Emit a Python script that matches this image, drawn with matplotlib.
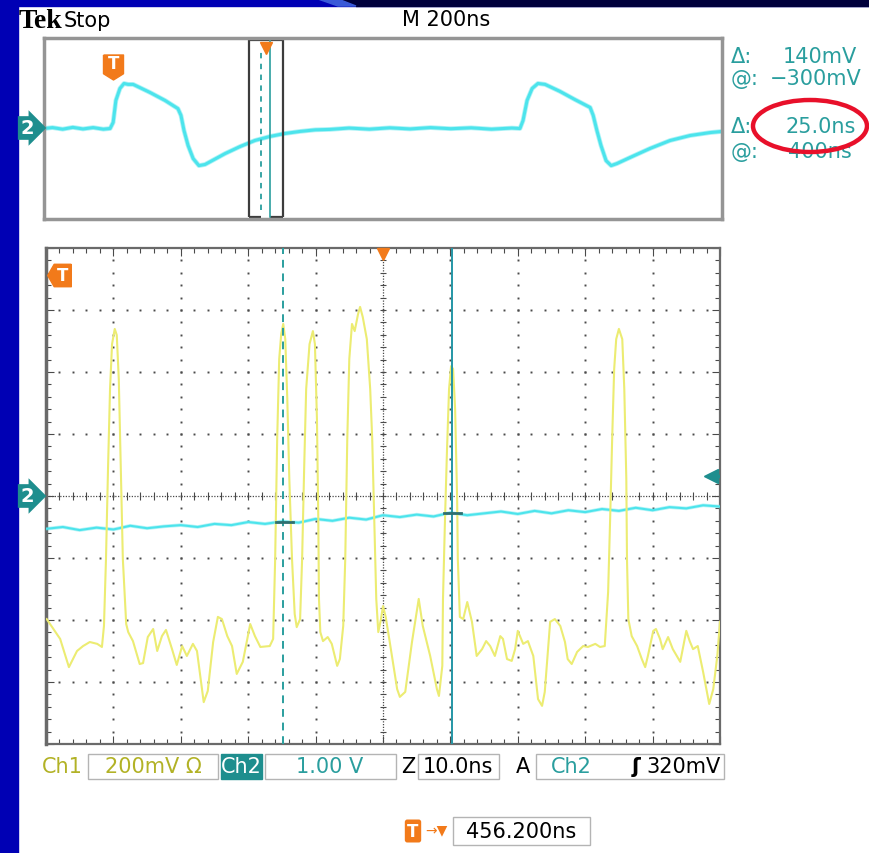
import matplotlib
matplotlib.use("Agg")
import matplotlib.pyplot as plt
import numpy as np
from matplotlib.patches import Rectangle, Ellipse, Polygon
from matplotlib.path import Path
from matplotlib.ticker import MultipleLocator

plt.rcParams['font.family'] = ['DejaVu Sans']

# --- channel settings ---
ch1_scale = 200.0      # mV/div
ch2_scale = 1.0        # V/div
trig_level = 0.32      # V, Ch2 rising edge
zoom_center = 655.0    # ns into the record
zoom_span = 100.0      # 10 ns/div zoom
cursor_a = -14.8       # ns, first time cursor (zoom time base)
cursor_delta = 25.0    # ns
trig_record = 204.0    # ns, trigger point in the record

# Ch2, full record (200 ns/div), volts
rec_t = [0, 25, 55, 85, 115, 145, 175, 195, 204, 212, 224, 236, 248, 263,
         313, 357, 395, 404, 413, 425, 440, 457, 475, 496, 534, 578, 622, 667,
         711, 755, 800, 844, 900, 960, 1020, 1080, 1140, 1200, 1260, 1320, 1380,
         1404, 1413, 1425, 1440, 1457, 1478, 1522, 1566, 1611, 1620, 1631, 1643,
         1658, 1673, 1690, 1729, 1788, 1847, 1906, 1965, 2000]
rec_v = [0, 0.04, -0.03, 0.05, -0.02, 0.04, -0.03, 0, 0.27, 1.24, 1.77, 1.99,
         1.95, 1.95, 1.59, 1.24, 0.88, 0.58, -0.09, -0.75, -1.33, -1.64, -1.59,
         -1.42, -1.11, -0.80, -0.53, -0.35, -0.22, -0.13, -0.06, -0.04, 0.02,
         -0.03, 0.03, -0.02, 0.04, -0.01, 0.03, -0.03, 0.02, 0, 0.35, 1.24, 1.77,
         1.99, 1.95, 1.64, 1.28, 0.93, 0.58, -0.09, -0.75, -1.42, -1.64, -1.55,
         -1.28, -0.88, -0.53, -0.31, -0.18, -0.13]

# Ch2, zoomed window (ns from trigger), volts
ch2_t = [-50, -47.5, -45, -42.5, -40, -37.5, -35, -32.5, -30, -27.5, -25, -22.5,
         -20, -17.5, -15, -12.5, -10, -7.5, -5, -2.5, 0, 2.5, 5, 7.5, 10, 12.5,
         15, 17.5, 20, 22.5, 25, 27.5, 30, 32.5, 35, 37.5, 40, 42.5, 45, 47.5, 50]
ch2_v = [-0.53, -0.50, -0.55, -0.51, -0.54, -0.48, -0.52, -0.49, -0.47, -0.50,
         -0.45, -0.47, -0.42, -0.45, -0.41, -0.43, -0.37, -0.40, -0.35, -0.38,
         -0.31, -0.34, -0.30, -0.33, -0.27, -0.31, -0.28, -0.25, -0.29, -0.24,
         -0.28, -0.23, -0.26, -0.21, -0.24, -0.19, -0.23, -0.18, -0.20, -0.15,
         -0.17]

# Ch1, zoomed window (ns from trigger), mV
ch1_t = [-49.9, -47.9, -46.6, -45.4, -44.5, -43.5, -42.4, -41.7, -41.4,
         -41.1, -40.8, -40.5, -40.2, -39.8, -39.5, -39.2, -38.9, -38.6, -38.1, -37.8,
         -37.1, -36.1, -35.6, -34.9, -34.1, -33.5, -32.8, -32.2, -31.3, -30.6,
         -29.8, -29.1, -28.2, -27.6, -26.6, -26.0, -25.2, -24.5, -23.9, -23.1,
         -22.4, -21.7, -20.8, -19.7, -19.0, -18.2, -16.8,
         -16.3, -16.0, -15.7, -15.4, -15.1, -14.8, -14.5, -14.2, -13.9, -13.5,
         -13.1, -12.8, -12.3, -12.0,
         -11.7, -11.4, -10.9, -10.4, -10.1, -9.8, -9.6, -9.5, -9.3, -8.9, -8.2,
         -7.6, -6.8, -6.4, -5.9,
         -5.6, -5.3, -5.0, -4.6, -4.2, -3.7, -3.4, -3.0, -2.4, -1.9, -1.6, -1.3,
         -1.0, -0.7, -0.3, 0.0, 0.4, 1.0, 2.1, 2.5, 3.3, 4.3, 5.3, 5.9, 7.0, 8.0,
         8.3, 8.8, 8.9,
         9.2, 9.5, 9.8, 10.1, 10.4, 10.7, 11.0, 11.1, 11.4, 11.9, 12.5, 13.2, 13.9,
         14.7, 15.3, 15.9, 16.6, 17.4, 17.8, 18.4, 19.1, 19.6, 20.0, 20.8, 21.5,
         22.3, 23.0, 23.6, 24.0, 24.8, 25.5, 26.3, 27.0, 27.4, 28.0, 28.8, 29.7,
         30.4, 31.5, 32.2, 32.9, 33.4,
         33.7, 34.0, 34.3, 34.6, 35.0, 35.5, 35.8, 36.1, 36.2, 36.4, 36.9, 37.7,
         38.4, 38.9, 39.3, 40.1, 40.5, 41.1, 41.5, 42.3, 43.0, 44.1, 45.0, 45.5,
         46.0, 46.7, 47.5, 48.4, 49.0, 49.6, 50.0]
ch1_mv = [-397, -461, -552, -500, -484, -471, -477, -487, -419,
          -203, 87, 345, 490, 539, 519, 377, 87, -203, -413, -439,
          -468, -542, -539, -455, -429, -500, -452, -432, -494, -545,
          -484, -516, -477, -500, -665, -629, -471, -390, -397, -452,
          -484, -574, -535, -413, -452, -487, -484,
          -461, -203, 184, 442, 523, 555, 506, 313, 55, -203,
          -381, -423, -397, -203,
          87, 345, 490, 532, 490, 248, -74, -332, -439, -468, -455,
          -477, -548, -526, -419,
          -203, 184, 442, 555, 532, 587, 610, 577, 506, 345, 184, -74,
          -332, -439, -397, -355, -390, -471, -623, -648, -632, -471, -332, -419,
          -516, -623, -645, -548, -332,
          -74, 152, 345, 419, 410, 281, -10, -203, -390, -397, -342, -406, -516,
          -494, -468, -484, -516, -452, -461, -526, -532, -494, -435, -477, -468,
          -516, -655, -677, -632, -406, -397, -419, -471, -526, -542, -503, -484,
          -487, -477, -487, -484, -310,
          -74, 184, 410, 506, 539, 506, 345, 55, -203, -397, -452, -484,
          -526, -552, -516, -435, -429, -461, -494, -455, -494, -535, -435, -468,
          -494, -484, -568, -671, -623, -516, -406]

W, H = 869, 854
BLUE = '#0000B4'
NAVY = '#00003C'
TEAL = '#2A9E9E'
TEAL_BG = '#1E8E8E'
ORANGE = '#F27A1A'
YELLOW = '#ECEC72'
CYAN = '#4CE4EC'
OLIVE = '#B2B226'
GRID = '#4A4A4A'


def fx(px):
    return px / W


def fy(py):
    return 1 - py / H


def fbox(x0, y0, x1, y1, **kw):
    fig.add_artist(Rectangle((fx(x0), fy(y1)), fx(x1) - fx(x0), (y1 - y0) / H,
                             transform=fig.transFigure, **kw))


def ftext(x, y, s, **kw):
    kw.setdefault('va', 'center')
    kw.setdefault('fontsize', 15)
    fig.text(fx(x), fy(y), s, **kw)


fig = plt.figure(figsize=(W / 100, H / 100), dpi=100)
fig.patch.set_facecolor('white')

# slide frame
fbox(0, 0, 18, H, color=BLUE, zorder=0)
fbox(0, 0, W, 7, color=BLUE, zorder=0)
fig.add_artist(Polygon([(fx(338), 1), (1, 1), (1, fy(7)), (fx(356), fy(7))],
                       closed=True, transform=fig.transFigure, color=NAVY, zorder=0))
fig.add_artist(Polygon([(fx(318), 1), (fx(338), 1), (fx(356), fy(7)), (fx(338), fy(7))],
                       closed=True, transform=fig.transFigure, color='#3A5AD8', zorder=0))

# ---- record view ----
up = fig.add_axes([fx(44), fy(220), fx(722) - fx(44), (220 - 39) / H])
up.set_xlim(0, 2000)
up.set_ylim(-4, 4)
up.set_xticks([])
up.set_yticks([])
for s in up.spines.values():
    s.set_color('#959595')
    s.set_linewidth(2.5)
up.plot(rec_t, np.array(rec_v) / ch2_scale, color=CYAN, lw=3.4, alpha=0.45,
        solid_joinstyle='round')
up.plot(rec_t, np.array(rec_v) / ch2_scale, color=CYAN, lw=2.2, solid_joinstyle='round')

z0 = zoom_center - zoom_span / 2
z1 = zoom_center + zoom_span / 2
c1 = zoom_center + cursor_a
c2 = c1 + cursor_delta
box_kw = dict(color='#3C3C3C', lw=1.6, solid_capstyle='butt')
up.plot([z0, z0], [-3.9, 3.9], **box_kw)
up.plot([z1, z1], [-3.9, 3.9], **box_kw)
up.plot([z0, z1], [3.9, 3.9], **box_kw)
up.plot([z0, c1], [-3.9, -3.9], **box_kw)
up.plot([c2, z1], [-3.9, -3.9], **box_kw)
up.plot([c1, c1], [-3.6, 3.5], color=TEAL, lw=1.3, ls=(0, (3, 3)))
up.plot([c2, c2], [-3.9, 3.9], color=TEAL, lw=1.2)
up.plot(zoom_center, 3.55, marker='v', ms=8, color=ORANGE, clip_on=False)

t_down = Path([(-0.8, 1), (0.8, 1), (0.8, -0.5), (0, -1), (-0.8, -0.5), (-0.8, 1)])
up.plot(trig_record, 2.74, marker=t_down, ms=18, color=ORANGE, clip_on=False)
up.text(trig_record, 2.9, 'T', color='white', fontsize=12, fontweight='bold',
        ha='center', va='center')

# ---- zoom view ----
ax = fig.add_axes([fx(46), fy(745), fx(720) - fx(46), (745 - 249) / H])
ax.set_xlim(-50, 50)
ax.set_ylim(-4, 4)
ax.xaxis.set_major_locator(MultipleLocator(10))
ax.xaxis.set_minor_locator(MultipleLocator(2))
ax.yaxis.set_major_locator(MultipleLocator(1))
ax.yaxis.set_minor_locator(MultipleLocator(0.2))
ax.tick_params(which='both', direction='in', top=True, right=True,
               labelbottom=False, labelleft=False, color=GRID, width=0.8)
ax.tick_params(which='major', length=6)
ax.tick_params(which='minor', length=3.5)
for name, s in ax.spines.items():
    s.set_color('#6A6A6A')
    s.set_linewidth(2.5 if name == 'left' else 1.6)

dots_y = np.arange(-4, 4.001, 0.2)
dots_x = np.arange(-50, 50.001, 2)
for gx in range(-40, 41, 10):
    if gx == 0:
        continue
    ax.plot(np.full(dots_y.size, gx), dots_y, ls='none', marker='s', ms=1.4, mew=0, color=GRID)
for gy in range(-3, 4):
    if gy == 0:
        continue
    ax.plot(dots_x, np.full(dots_x.size, gy), ls='none', marker='s', ms=1.4, mew=0, color=GRID)
ax.axhline(0, color=GRID, lw=0.9, ls=(0, (1, 1.2)))
ax.axvline(0, color=GRID, lw=0.9, ls=(0, (1, 1.2)))
ax.vlines(dots_x, -0.06, 0.06, color=GRID, lw=0.8)
ax.hlines(dots_y, -0.45, 0.45, color=GRID, lw=0.8)

ax.plot(ch2_t, np.array(ch2_v) / ch2_scale, color=CYAN, lw=2.6, alpha=0.4, zorder=3)
ax.plot(ch2_t, np.array(ch2_v) / ch2_scale, color=CYAN, lw=1.5, zorder=3)
ax.plot(ch1_t, np.array(ch1_mv) / ch1_scale, color=YELLOW, lw=1.5, zorder=4)

ax.axvline(cursor_a, color=TEAL, lw=1.4, ls=(0, (4, 3)), zorder=5)
ax.axvline(cursor_a + cursor_delta, color='#2496A6', lw=1.4, zorder=5)
for c in (cursor_a, cursor_a + cursor_delta):
    v = np.interp(c, ch2_t, ch2_v) / ch2_scale
    ax.plot([c - 1.1, c + 1.4], [v, v], color='#2F6F6F', lw=2, zorder=6)

ax.plot(0, 3.9, marker='v', ms=9, color=ORANGE, clip_on=False, zorder=7)
t_left = Path([(1, 0.95), (1, -0.95), (-0.45, -0.95), (-1, 0), (-0.45, 0.95), (1, 0.95)])
ax.plot(-48.0, 3.56, marker=t_left, ms=17, color=ORANGE, clip_on=False, zorder=7)
ax.text(-47.6, 3.56, 'T', color='white', fontsize=12, fontweight='bold',
        ha='center', va='center', zorder=8)
ax.plot(48.6, trig_level / ch2_scale, marker='<', ms=10, color=TEAL_BG, clip_on=False, zorder=7)
ax.plot([48.6, 50], [trig_level / ch2_scale] * 2, color=TEAL_BG, lw=2.5, zorder=7)

# channel-2 position markers
for yy in (129, 497):
    ftext(27, yy, '2', color='white', fontsize=14, fontweight='bold', ha='center',
          bbox=dict(boxstyle='rarrow,pad=0.12', fc=TEAL_BG, ec='none'))

# ---- readouts ----
ftext(19, 22, 'Tek', family='Liberation Serif', fontweight='bold', fontsize=20)
ftext(64, 21, 'Stop', fontsize=15)
ftext(446, 20, 'M 200ns', fontsize=15, ha='center')

ftext(731, 57, 'Δ:', color=TEAL)
ftext(857, 57, '140mV', color=TEAL, ha='right')
ftext(731, 79, '@:', color=TEAL)
ftext(862, 79, '−300mV', color=TEAL, ha='right')
ftext(731, 127, 'Δ:', color=TEAL)
ftext(856, 127, '25.0ns', color=TEAL, ha='right')
ftext(731, 152, '@:', color=TEAL)
ftext(852, 152, '400ns', color=TEAL, ha='right')
fig.add_artist(Ellipse((fx(810), fy(127)), 114 / W, 52 / H, transform=fig.transFigure,
                       fill=False, ec='#E8102A', lw=3.2, zorder=10))

# bottom status line
row = 767
edge = dict(fill=False, ec='#B4B4B4', lw=1.0)
ftext(62, row, 'Ch1', color=OLIVE, ha='center')
fbox(88, 755, 218, 780, **edge)
ftext(153, row, '200mV Ω', color=OLIVE, ha='center')
fbox(221, 755, 262, 780, color=TEAL_BG)
ftext(241, row, 'Ch2', color='white', ha='center')
fbox(265, 755, 396, 780, **edge)
ftext(330, row, '1.00 V', color=TEAL, ha='center')
ftext(408, row, 'Z', color='black', ha='center')
fbox(418, 755, 499, 780, **edge)
ftext(458, row, '10.0ns', color='black', ha='center')
ftext(523, row, 'A', color='black', ha='center')
fbox(536, 755, 724, 780, **edge)
ftext(571, row, 'Ch2', color=TEAL, ha='center')
ftext(636, row, 'ʃ', color='black', ha='center', fontweight='bold')
ftext(721, row, '320mV', color='black', ha='right')

ftext(413, 832, 'T', color='white', fontsize=12, fontweight='bold', ha='center',
      bbox=dict(boxstyle='round,pad=0.15', fc=ORANGE, ec='none'))
ftext(436, 830, '→▼', color=ORANGE, fontsize=10, ha='center')
fbox(453, 818, 590, 846, **edge)
ftext(521, 832, '456.200ns', color='black', ha='center')

fig.savefig('out.png', dpi=100)
